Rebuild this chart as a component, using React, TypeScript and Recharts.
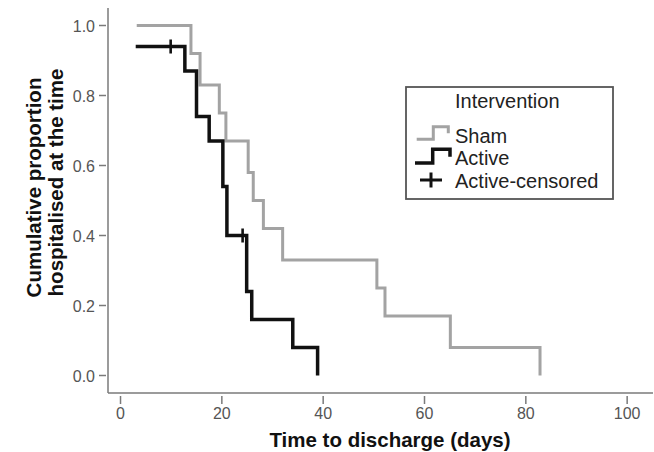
import React from 'react';
import { ComposedChart, Line, Scatter, XAxis, YAxis, Legend, Customized } from 'recharts';

// Kaplan–Meier style step data
const shamTimes = [3.2, 13.9, 15.7, 19.5, 20.8, 25.2, 26.2, 28.2, 32.0, 50.6, 52.2, 65.1, 82.8];
const shamSurv = [1.0, 0.92, 0.83, 0.75, 0.67, 0.58, 0.5, 0.42, 0.33, 0.25, 0.17, 0.08, 0];
const activeTimes = [3.0, 12.7, 15.0, 17.5, 20.2, 21.0, 24.9, 25.9, 34.0, 38.9];
const activeSurv = [0.94, 0.87, 0.74, 0.67, 0.54, 0.4, 0.24, 0.16, 0.08, 0];
const censorTimes = [9.9, 24.1];
const censorSurv = [0.94, 0.4];
const xTicks = [0, 20, 40, 60, 80, 100];
const yTicks = [0, 0.2, 0.4, 0.6, 0.8, 1.0];
const legendTitle = 'Intervention';
const legendLabels = ['Sham', 'Active', 'Active-censored'];
const xTitle = 'Time to discharge (days)';
const yTitleLines = ['Cumulative proportion', 'hospitalised at the time'];

const shamData = shamTimes.map((x, i) => ({ x, y: shamSurv[i] }));
const activeData = activeTimes.map((x, i) => ({ x, y: activeSurv[i] }));
const censorData = censorTimes.map((x, i) => ({ x, y: censorSurv[i] }));

const FONT = '"Liberation Sans", Arial, Helvetica, sans-serif';
const AXIS = '#7a7a7a';
const SHAM = '#a3a3a3';
const ACTIVE = '#111111';

const XTick = (props: any) => {
  const { x, y, payload } = props;
  return (
    <g>
      <line x1={x} x2={x} y1={y + 3} y2={y + 11} stroke={AXIS} strokeWidth={1.5} />
      <text x={x} y={y + 26} textAnchor="middle" fontSize={16} fill="#555" fontFamily={FONT}>
        {payload.value}
      </text>
    </g>
  );
};

const YTick = (props: any) => {
  const { x, y, payload } = props;
  return (
    <g>
      <line x1={x - 9} x2={x - 2} y1={y} y2={y} stroke={AXIS} strokeWidth={1.5} />
      <text x={x - 13} y={y + 6} textAnchor="end" fontSize={16} fill="#555" fontFamily={FONT}>
        {Number(payload.value).toFixed(1)}
      </text>
    </g>
  );
};

const CensorMark = (props: any) => {
  const { cx, cy } = props;
  if (cx == null || cy == null) return null;
  return (
    <g>
      <line x1={cx} x2={cx} y1={cy - 7} y2={cy + 7} stroke={ACTIVE} strokeWidth={2.6} />
      <line x1={cx - 5} x2={cx + 5} y1={cy} y2={cy} stroke={ACTIVE} strokeWidth={2.6} />
    </g>
  );
};

const LegendBox = () => (
  <svg width={212} height={116} style={{ display: 'block', overflow: 'visible' }}>
    <rect x={1} y={1} width={207} height={112} fill="#fff" stroke="#555" strokeWidth={1.8} />
    <text x={50} y={22.3} fontSize={20} fill="#222" fontFamily={FONT}>{legendTitle}</text>
    <path d="M 11.7 53.3 H 28.3 V 40.7 H 43.3 V 47.3" fill="none" stroke={SHAM} strokeWidth={3} />
    <text x={50} y={56.7} fontSize={20} fill="#222" fontFamily={FONT}>{legendLabels[0]}</text>
    <path d="M 10 77 H 27.7 V 63.3 H 45 V 70.7" fill="none" stroke={ACTIVE} strokeWidth={3.5} />
    <text x={50} y={79} fontSize={20} fill="#222" fontFamily={FONT}>{legendLabels[1]}</text>
    <line x1={15} x2={37} y1={94} y2={94} stroke={ACTIVE} strokeWidth={3} />
    <line x1={26} x2={26} y1={86.5} y2={101.5} stroke={ACTIVE} strokeWidth={3} />
    <text x={50} y={102.3} fontSize={20} fill="#222" fontFamily={FONT}>{legendLabels[2]}</text>
  </svg>
);

const Titles = () => (
  <g fontFamily={FONT} fontWeight="bold" fontSize={20.5} fill="#111">
    <text x={390} y={446.5} textAnchor="middle">{xTitle}</text>
    <text x={41} y={187.5} textAnchor="middle" transform="rotate(-90, 41, 187.5)">{yTitleLines[0]}</text>
    <text x={63} y={182.5} textAnchor="middle" transform="rotate(-90, 63, 182.5)">{yTitleLines[1]}</text>
  </g>
);

export default function App() {
  return (
    <div style={{ position: 'absolute', left: 0, top: 0, width: 654, height: 452, background: '#fff' }}>
      <ComposedChart
        width={654}
        height={452}
        margin={{ top: 8, right: 1, bottom: 0, left: 0 }}
        style={{ fontFamily: FONT }}
      >
        <XAxis
          type="number"
          dataKey="x"
          domain={[-2.47, 105.1]}
          allowDataOverflow
          ticks={xTicks}
          interval={0}
          height={59}
          tickSize={0}
          tickMargin={0}
          tickLine={false}
          axisLine={{ stroke: AXIS, strokeWidth: 1.5 }}
          tick={<XTick />}
        />
        <YAxis
          type="number"
          dataKey="y"
          domain={[-0.05, 1.05]}
          allowDataOverflow
          ticks={yTicks}
          interval={0}
          width={108}
          tickSize={0}
          tickMargin={0}
          tickLine={false}
          axisLine={{ stroke: AXIS, strokeWidth: 1.5 }}
          tick={<YTick />}
        />
        <Line
          data={shamData}
          dataKey="y"
          type="stepAfter"
          stroke={SHAM}
          strokeWidth={3}
          dot={false}
          activeDot={false}
          isAnimationActive={false}
          name="Sham"
        />
        <Line
          data={activeData}
          dataKey="y"
          type="stepAfter"
          stroke={ACTIVE}
          strokeWidth={3.5}
          dot={false}
          activeDot={false}
          isAnimationActive={false}
          name="Active"
        />
        <Scatter
          data={censorData}
          dataKey="y"
          shape={<CensorMark />}
          isAnimationActive={false}
          name="Active-censored"
        />
        <Legend
          layout="horizontal"
          align="center"
          verticalAlign="middle"
          content={<LegendBox />}
          wrapperStyle={{ position: 'absolute', left: 405, top: 86, width: 212, height: 116 }}
        />
        <Customized component={<Titles />} />
      </ComposedChart>
    </div>
  );
}
